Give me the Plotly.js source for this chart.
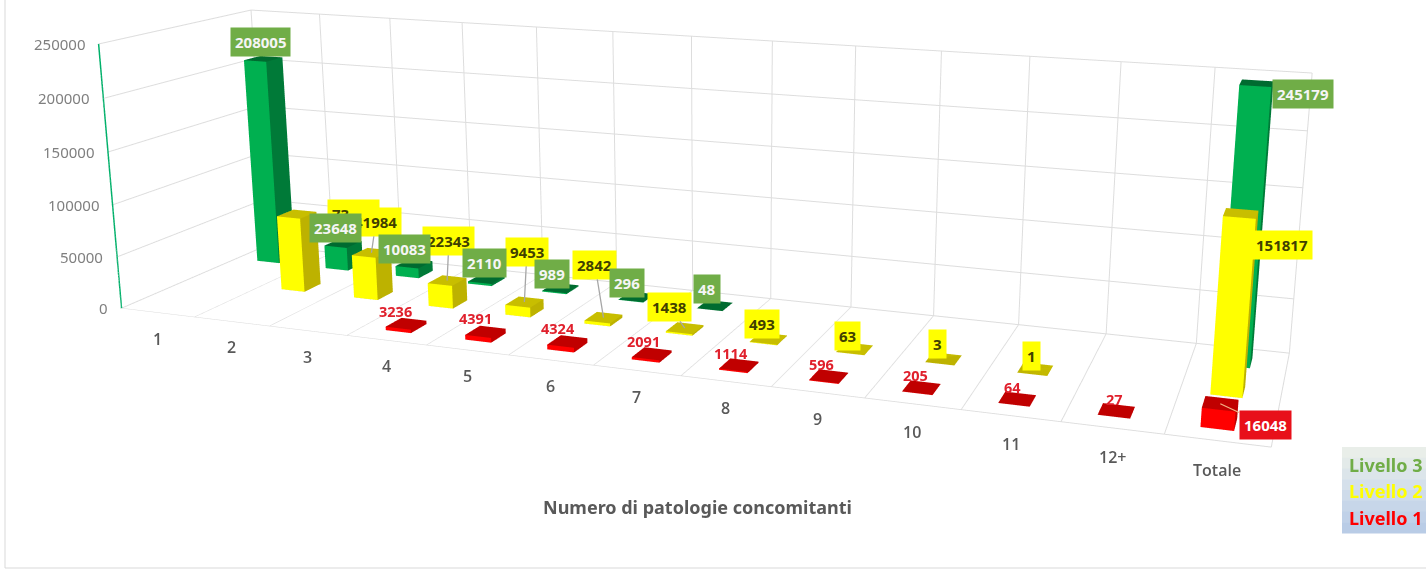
<!DOCTYPE html>
<html><head><meta charset="utf-8">
<script src="https://cdn.plot.ly/plotly-3.0.1.min.js"></script>
<style>html,body{margin:0;padding:0;background:#fff;overflow:hidden}
#wrap{position:absolute;left:0;top:0;width:1426px;height:569px;overflow:hidden}
#chart{position:absolute;left:0;top:-536px;width:1556px;height:1503px}</style></head>
<body><div id="wrap"><div id="chart"></div></div>
<script>
const categories=['1','2','3','4','5','6','7','8','9','10','11','12+','Totale'];
const livello3=[208005,23648,10083,2110,989,296,48,null,null,null,null,null,245179];
const livello2=[null,73197,41984,22343,9453,2842,1438,493,63,3,1,null,151817];
const livello1=[null,null,null,3236,4391,4324,2091,1114,596,205,64,27,16048];
const yTicks=[0,50000,100000,150000,200000,250000];
const legendNames=['Livello 3','Livello 2','Livello 1'];
const axisTitle='Numero di patologie concomitanti';
const W=1556,H=1503,TOP=536;
const BARC=0.47,BARW=0.16,BARD=0.18,ROLL=0.004;
const A={w:.6144,d:.1385,h:.1468,o:[-.3616,.0524,1],xh:[.9486,.0819,-.3057],yh:[.3166,-.2356,.9189],zh:[.0033,-.9686,-.2491],f:1814,px:778,py:216};
function proj(x,y,z){const a=x/13*A.w,b=y/3*A.d,c=z/250000*A.h;const v=[0,1,2].map(i=>A.o[i]+a*A.xh[i]+b*A.yh[i]+c*A.zh[i]);
  const dx=A.f*v[0]/v[2],dy=A.f*v[1]/v[2];return [A.px+dx-ROLL*dy,A.py+dy+ROLL*dx];}
function bars(vals,row,cols,name){
  const X=[],Y=[],Z=[],I=[],J=[],K=[],FC=[];
  vals.forEach((v,c)=>{ if(v==null)return;
    const n=X.length,x0=c+BARC-BARW,x1=c+BARC+BARW,y0=row+.5-BARD,y1=row+.5+BARD;
    [[x0,y0,0],[x1,y0,0],[x1,y1,0],[x0,y1,0],[x0,y0,v],[x1,y0,v],[x1,y1,v],[x0,y1,v]].forEach(p=>{X.push(p[0]);Y.push(p[1]);Z.push(p[2]);});
    const q=(a,b,c2,d,col)=>{I.push(n+a,n+a);J.push(n+b,n+c2);K.push(n+c2,n+d);FC.push(col,col);};
    q(0,1,5,4,cols.front);q(1,2,6,5,cols.side);q(4,5,6,7,cols.top);q(3,0,4,7,cols.front);q(2,3,7,6,cols.side);q(0,1,2,3,cols.side);
  });
  return {type:'mesh3d',name,x:X,y:Y,z:Z,i:I,j:J,k:K,facecolor:FC,flatshading:true,
    lighting:{ambient:1,diffuse:0,specular:0,roughness:1,fresnel:0},hoverinfo:'skip',showscale:false};
}
const traces=[
  bars(livello3,2,{front:'#00B050',side:'#007A38',top:'#006B30'},'Livello 3'),
  bars(livello2,1,{front:'#FFFF00',side:'#BDB200',top:'#C8BE00'},'Livello 2'),
  bars(livello1,0,{front:'#FF0000',side:'#C00000',top:'#C00000'},'Livello 1')
];
// label layout: wanted centre of each value label on the page
const spot3=[[261,42],[336,228],[405,249],[485,263],[552,274],[627,283],[707,289],0,0,0,0,0,[1303,94]];
const spot2=[0,[354,214],[376,222],[449,241],[527,252],[595,265],[670,307],[762,324],[848,336],[937,344],[1031,356],0,[1282,245]];
const spot1=[0,0,0,[396,311],[476,318],[558,328],[644,341],[731,353],[821,364],[915,375],[1012,387],[1114,399],[1265,425]];
const leaders={'1,2':1,'1,3':1,'1,4':1,'1,5':1,'1,6':1,'0,12':1};
const annots=[];
function labels(vals,row,spots,bg,fg,size){vals.forEach((v,c)=>{ if(v==null)return;
  const p=proj(c+BARC,row+.5,v),dx=spots[c][0]-p[0],dy=spots[c][1]-p[1];
  const big=row===0&&c===12;
  const a={x:c+BARC,y:row+.5,z:v,text:'<b>'+v+'</b>',borderpad:big||row>0?4:0,bgcolor:big?'#E8101A':bg,
    font:{family:'Noto Sans',size:big?15:size,color:big?'#fff':fg}};
  if(leaders[row+','+c]){Object.assign(a,{showarrow:true,ax:dx,ay:dy,arrowhead:0,arrowwidth:1.3,arrowcolor:big?'#F4B183':'#A6A6A6'});}
  else Object.assign(a,{showarrow:false,xshift:dx,yshift:-dy});
  annots.push(a);});}
labels(livello1,0,spot1,'rgba(0,0,0,0)','#E0202C',14.5);
labels(livello2,1,spot2,'#FFFF00','#404000',15);
labels(livello3,2,spot3,'#70AD47','#F5F5F5',15);
const catDrop=[26,26,26,26,26,26,27,27,27,28,28,29,29];
categories.forEach((t,i)=>annots.push({x:i+.5,y:0,z:0,text:t,showarrow:false,yshift:-catDrop[i],font:{family:'Open Sans',size:16,weight:600,color:'#595959'}}));
yTicks.forEach(t=>annots.push({x:0,y:0,z:t,text:String(t),showarrow:false,xanchor:'right',xshift:-12,font:{family:'Noto Sans',size:15,color:'#7F7F7F'}}));
const k=2;
const px=x=>x/W,py=y=>1-(y+TOP)/H;
const shapes=[
 {type:'line',xref:'paper',yref:'paper',x0:px(5),x1:px(5),y0:py(-2),y1:py(568),line:{color:'#D9D9D9',width:1}},
 {type:'line',xref:'paper',yref:'paper',x0:px(5),x1:px(1426),y0:py(568),y1:py(568),line:{color:'#D9D9D9',width:1}}];
const bands=['#E9EEE9','#E3EAE9','#DCE5EA','#D5E0EB','#CEDBEA','#C7D6E9','#C0D1E8','#B9CCE6'];
bands.forEach((c,i)=>shapes.push({type:'rect',xref:'paper',yref:'paper',x0:px(1342),x1:px(1426),y0:py(447+i*86/8),y1:py(447+(i+1)*86/8+.5),fillcolor:c,line:{width:0}}));
const legendCols=['#70AD47','#FFFF00','#FF0000'],legendY=[465,491,518];
const paperAnn=legendNames.map((t,i)=>({xref:'paper',yref:'paper',x:px(1347),y:py(legendY[i]),xanchor:'left',yanchor:'middle',showarrow:false,text:'<b>'+t+'</b>',font:{family:'Noto Sans',size:18,color:legendCols[i]}}));
paperAnn.push({xref:'paper',yref:'paper',x:px(697),y:py(507),xanchor:'center',yanchor:'middle',showarrow:false,text:'<b>'+axisTitle+'</b>',font:{family:'Noto Sans',size:18,color:'#595959'}});
const grid={showgrid:true,gridcolor:'#DDDDDD',gridwidth:2,zeroline:false,showbackground:false,title:{text:''},ticks:'',showspikes:false,showticklabels:false};
const layout={width:W,height:H,margin:{l:0,r:0,t:0,b:0},paper_bgcolor:'#fff',showlegend:false,shapes,annotations:paperAnn,
 scene:{domain:{x:[0,1],y:[0,1]},aspectmode:'manual',aspectratio:{x:A.w*k,y:A.d*k,z:A.h*k},
  camera:{projection:{type:'perspective'},eye:{x:.3372*k,y:-.8614*k,z:.2277*k},center:{x:.0468*k,y:.0116*k,z:-.0089*k},up:{x:-.0857,y:.2343,z:.9686}},
  xaxis:Object.assign({range:[0,13],tickvals:[0,1,2,3,4,5,6,7,8,9,10,11,12,13],showline:false},grid),
  yaxis:Object.assign({range:[0,3],tickvals:[0,3],showline:false},grid),
  zaxis:Object.assign({range:[0,250000],tickvals:yTicks,showline:true,linecolor:'#00B06A',linewidth:3},grid),
  annotations:annots}
};
Plotly.newPlot('chart',traces,layout,{displayModeBar:false});
</script></body></html>
